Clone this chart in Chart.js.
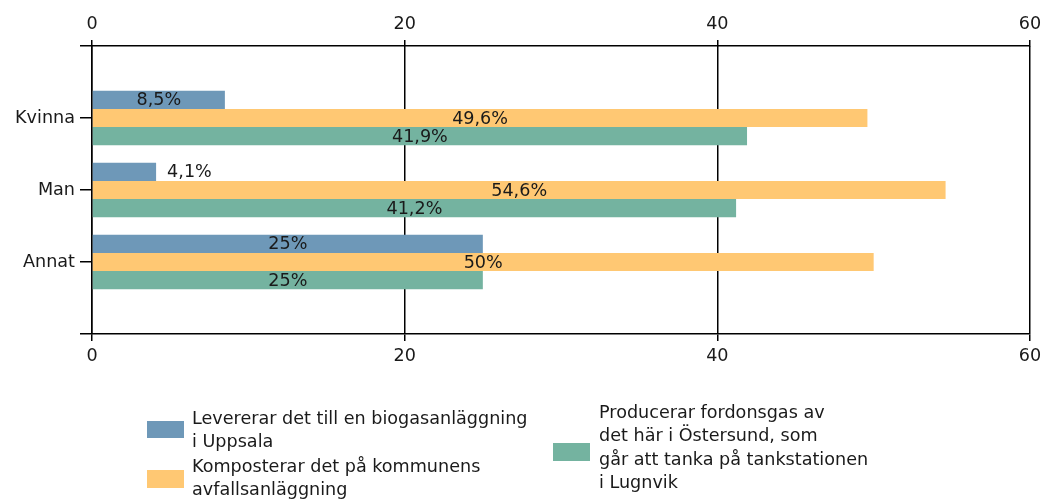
<!DOCTYPE html>
<html>
<head>
<meta charset="utf-8">
<script src="https://cdn.jsdelivr.net/npm/chart.js@4"></script>
<style>
  html, body { margin: 0; padding: 0; background: #fff; }
  #wrap { width: 1046px; height: 503px; position: relative; }
</style>
</head>
<body>
<div id="wrap"><canvas id="chart"></canvas></div>
<script>
// Kategorier (tomma platser i början och slutet ger axelns ändstreck)
const categories = ['Kvinna', 'Man', 'Annat'];
const xTicks = [0, 20, 40, 60];

// Serier, procent
const seriesNames = [
    ['Levererar det till en biogasanläggning', 'i Uppsala'],
    ['Komposterar det på kommunens', 'avfallsanläggning'],
    ['Producerar fordonsgas av', 'det här i Östersund, som', 'går att tanka på tankstationen', 'i Lugnvik']
];
const uppsala = [8.5, 4.1, 25];
const kompost = [49.6, 54.6, 50];
const fordonsgas = [41.9, 41.2, 25];
const colors = ['#6e98b8', '#ffc873', '#74b3a0'];

const FONT = '"DejaVu Sans", sans-serif';
const FONT_SIZE = 17.6;
const TEXT = '#1a1a1a';

const pad = arr => [null, ...arr, null];

// Etiketter på staplarna
const barLabels = {
    id: 'barLabels',
    afterDatasetsDraw(chart) {
        const ctx = chart.ctx;
        ctx.save();
        ctx.font = FONT_SIZE + 'px ' + FONT;
        ctx.fillStyle = TEXT;
        ctx.textBaseline = 'middle';
        chart.data.datasets.forEach((ds, i) => {
            const meta = chart.getDatasetMeta(i);
            meta.data.forEach((bar, j) => {
                const v = ds.data[j];
                if (v === null || v === undefined) return;
                const text = String(v).replace('.', ',') + '%';
                const w = ctx.measureText(text).width;
                const len = bar.x - bar.base;
                if (len > w + 30) {
                    ctx.textAlign = 'center';
                    ctx.fillText(text, (bar.x + bar.base) / 2, bar.y + 1);
                } else {
                    ctx.textAlign = 'left';
                    ctx.fillText(text, bar.x + 11, bar.y + 1);
                }
            });
        });
        ctx.restore();
    }
};

// Förklaring längst ner
const bottomLegend = {
    id: 'bottomLegend',
    afterDraw(chart) {
        const ctx = chart.ctx;
        const boxes = [
            { sx: 147, sy: 421, sw: 37, sh: 17, tx: 192, ty: 419 },
            { sx: 147, sy: 470, sw: 37, sh: 18, tx: 192, ty: 467 },
            { sx: 553, sy: 443, sw: 37, sh: 18, tx: 599, ty: 413 }
        ];
        ctx.save();
        ctx.font = FONT_SIZE + 'px ' + FONT;
        ctx.textBaseline = 'middle';
        ctx.textAlign = 'left';
        boxes.forEach((b, i) => {
            ctx.fillStyle = colors[i];
            ctx.fillRect(b.sx, b.sy, b.sw, b.sh);
            ctx.fillStyle = TEXT;
            seriesNames[i].forEach((line, k) => {
                ctx.fillText(line, b.tx, b.ty + k * 23.5);
            });
        });
        ctx.restore();
    }
};

const tickFont = { family: FONT, size: FONT_SIZE };

function fixX(height) {
    return function (scale) {
        scale.height = height;
        scale.paddingLeft = 0;
        scale.paddingRight = 0;
    };
}

new Chart(document.getElementById('chart'), {
    type: 'bar',
    data: {
        labels: pad(categories).map(c => c || ''),
        datasets: [
            { label: seriesNames[0].join(' '), data: pad(uppsala), backgroundColor: colors[0] },
            { label: seriesNames[1].join(' '), data: pad(kompost), backgroundColor: colors[1] },
            { label: seriesNames[2].join(' '), data: pad(fordonsgas), backgroundColor: colors[2] }
        ]
    },
    options: {
        indexAxis: 'y',
        responsive: true,
        maintainAspectRatio: false,
        animation: false,
        layout: { padding: { left: 0, right: 16, top: 0, bottom: 0 } },
        datasets: { bar: { categoryPercentage: 0.76, barPercentage: 1 } },
        plugins: {
            legend: { display: false },
            tooltip: { enabled: false }
        },
        scales: {
            y: {
                type: 'category',
                offset: false,
                grid: { offset: false, drawOnChartArea: false, tickLength: 12, color: '#000', lineWidth: 1.5 },
                border: { color: '#000', width: 1.5 },
                ticks: { font: tickFont, color: TEXT, padding: 5, autoSkip: false },
                afterFit(scale) { scale.width = 92; }
            },
            x: {
                position: 'bottom',
                min: 0, max: 60,
                afterBuildTicks(scale) { scale.ticks = xTicks.map(v => ({ value: v })); },
                grid: { color: '#000', lineWidth: 1.5, tickLength: 7 },
                border: { color: '#000', width: 1.5 },
                ticks: { font: tickFont, color: TEXT, padding: 5 },
                afterFit: fixX(169)
            },
            x2: {
                position: 'top',
                min: 0, max: 60,
                afterBuildTicks(scale) { scale.ticks = xTicks.map(v => ({ value: v })); },
                grid: { drawOnChartArea: false, color: '#000', lineWidth: 1.5, tickLength: 6 },
                border: { color: '#000', width: 1.5 },
                ticks: { font: tickFont, color: TEXT, padding: 5 },
                afterFit: fixX(46)
            }
        }
    },
    plugins: [barLabels, bottomLegend]
});
</script>
</body>
</html>
